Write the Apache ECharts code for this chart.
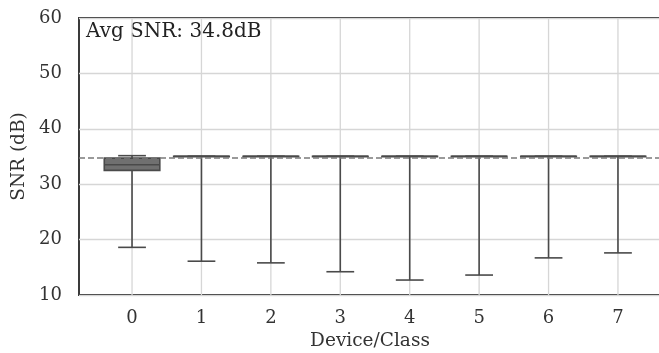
<!DOCTYPE html>
<html><head><meta charset="utf-8">
<script src="https://cdn.jsdelivr.net/npm/echarts@6/dist/echarts.min.js"></script>
<style>html,body{margin:0;padding:0;background:#fff}#c{width:659px;height:353px}</style>
</head><body><div id="c"></div>
<script>
const categories = [0, 1, 2, 3, 4, 5, 6, 7];
const whiskerLow = [18.6, 16.1, 15.8, 14.2, 12.7, 13.6, 16.7, 17.6];
const q1 = [32.5, 35.05, 35.05, 35.05, 35.05, 35.05, 35.05, 35.05];
const median = [33.5, 35.05, 35.05, 35.05, 35.05, 35.05, 35.05, 35.05];
const q3 = [34.7, 35.05, 35.05, 35.05, 35.05, 35.05, 35.05, 35.05];
const whiskerHigh = [35.15, 35.05, 35.05, 35.05, 35.05, 35.05, 35.05, 35.05];
const avgSNR = 34.8;
const yTicks = [10, 20, 30, 40, 50, 60];

const FONT = 'DejaVu Serif';
const data = categories.map((c, i) => [c, whiskerLow[i], q1[i], median[i], q3[i], whiskerHigh[i]]);

const chart = echarts.init(document.getElementById('c'), null, {renderer: 'canvas'});
const boxColor = '#707070', edge = '#4a4a4a';
chart.setOption({
  animation: false,
  grid: {left: 79, top: 18, right: -2, bottom: 58, show: true, borderColor: '#262626', borderWidth: 1.8, backgroundColor: 'transparent', outerBoundsMode: 'none', containLabel: false},
  xAxis: {
    type: 'value', min: -0.764, max: 7.62,
    name: 'Device/Class', nameLocation: 'middle', nameGap: 33,
    nameTextStyle: {fontFamily: FONT, fontSize: 18.5, color: '#333'},
    axisLine: {show: false}, axisTick: {show: false, customValues: categories},
    splitLine: {show: false},
    axisLabel: {customValues: categories, fontFamily: FONT, fontSize: 18, color: '#333', margin: 14, formatter: v => String(v)}
  },
  yAxis: {
    type: 'value', min: yTicks[0], max: yTicks[yTicks.length - 1], interval: 10,
    name: 'SNR (dB)', nameLocation: 'middle', nameGap: 47,
    nameTextStyle: {fontFamily: FONT, fontSize: 18.5, color: '#333'},
    axisLine: {show: false}, axisTick: {show: false},
    splitLine: {show: true, lineStyle: {color: '#d6d6d6', width: 1.3}},
    axisLabel: {fontFamily: FONT, fontSize: 18, color: '#333', margin: 17}
  },
  graphic: [{
    type: 'text', left: 86, top: 22,
    style: {text: 'Avg SNR: ' + avgSNR.toFixed(1) + 'dB', font: '20px "' + FONT + '"', fill: '#222'}
  }],
  series: [{
    type: 'custom',
    data: data,
    clip: false,
    renderItem: function (params, api) {
      const x = api.value(0);
      const lo = api.value(1), a = api.value(2), m = api.value(3), b = api.value(4), hi = api.value(5);
      const pLo = api.coord([x, lo]), pA = api.coord([x, a]), pM = api.coord([x, m]), pB = api.coord([x, b]), pHi = api.coord([x, hi]);
      const top = api.coord([x, 60]), bot = api.coord([x, 10]);
      const band = api.size([1, 0])[0];
      const bw = band * 0.8, cw = band * 0.4;
      const cx = pM[0];
      const ls = {stroke: edge, lineWidth: 1.6};
      const children = [
        {type: 'line', shape: {x1: cx, y1: top[1], x2: cx, y2: bot[1]}, style: {stroke: '#d6d6d6', lineWidth: 1.3}},
        {type: 'line', shape: {x1: cx, y1: pLo[1], x2: cx, y2: pA[1]}, style: ls},
        {type: 'line', shape: {x1: cx, y1: pB[1], x2: cx, y2: pHi[1]}, style: ls},
        {type: 'line', shape: {x1: cx - cw / 2, y1: pLo[1], x2: cx + cw / 2, y2: pLo[1]}, style: ls},
        {type: 'line', shape: {x1: cx - cw / 2, y1: pHi[1], x2: cx + cw / 2, y2: pHi[1]}, style: ls},
        {type: 'rect', shape: {x: cx - bw / 2, y: pB[1], width: bw, height: Math.max(pA[1] - pB[1], 0.5)}, style: {fill: boxColor, stroke: edge, lineWidth: 1.6}},
        {type: 'line', shape: {x1: cx - bw / 2, y1: pM[1], x2: cx + bw / 2, y2: pM[1]}, style: ls}
      ];
      return {type: 'group', children: children};
    },
    markLine: {
      silent: true, symbol: 'none', z: 10,
      label: {show: false},
      lineStyle: {type: [6, 3], color: '#7a7a7a', width: 1.6},
      data: [{yAxis: avgSNR}]
    }
  }]
});
</script></body></html>
